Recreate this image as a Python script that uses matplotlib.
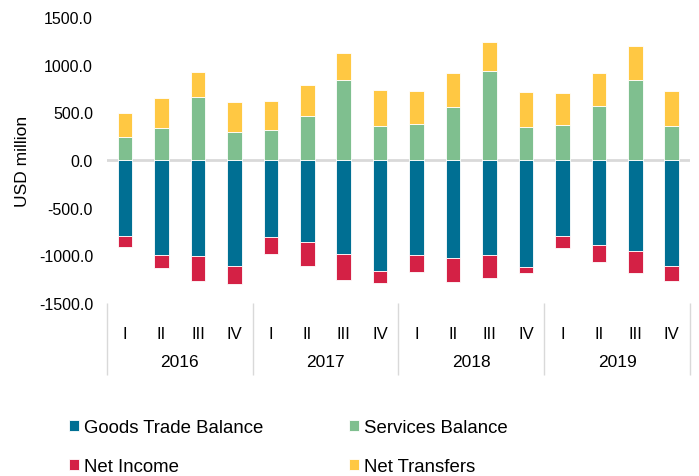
import numpy as np
import matplotlib.pyplot as plt
from matplotlib.transforms import blended_transform_factory

plt.rcParams['font.family'] = ['Liberation Sans', 'DejaVu Sans']

years = ['2016', '2017', '2018', '2019']
quarters = ['I', 'II', 'III', 'IV']

# USD million
goods = [-797, -993, -1007, -1115, -805, -863, -989, -1168,
         -993, -1028, -1000, -1119, -800, -888, -951, -1115]
services = [241, 339, 664, 297, 318, 465, 842, 360,
            381, 559, 934, 349, 364, 570, 842, 360]
income = [-112, -140, -262, -182, -182, -252, -273, -122,
          -178, -255, -241, -66, -129, -178, -238, -157]
transfers = [252, 308, 259, 311, 301, 322, 280, 377,
             343, 354, 307, 368, 336, 343, 351, 364]

c_goods = '#006f93'
c_serv = '#7fbf8f'
c_inc = '#d42145'
c_trans = '#ffc843'

x = np.arange(len(goods))
w = 0.4
fig = plt.figure(figsize=(6.99, 4.77), dpi=100)
ax = fig.add_axes([0.153, 0.363, 0.834, 0.599])

kw = dict(width=w, edgecolor='#ffffff', linewidth=0.6)
b1 = ax.bar(x, goods, color=c_goods, **kw)
b2 = ax.bar(x, services, color=c_serv, **kw)
b3 = ax.bar(x, income, bottom=goods, color=c_inc, **kw)
b4 = ax.bar(x, transfers, bottom=services, color=c_trans, **kw)

ax.set_ylim(-1500, 1500)
ax.set_xlim(-0.5, len(goods) - 0.5)
ax.set_yticks(np.arange(-1500, 1501, 500))
ax.set_yticklabels([f'{v:.1f}' for v in np.arange(-1500, 1501, 500)])
ax.set_ylabel('USD million', fontsize=12.5, labelpad=6)
ax.axhline(0, color='#d9d9d9', linewidth=2, zorder=0)
for s in ax.spines.values():
    s.set_visible(False)

ax.tick_params(axis='y', length=0, labelsize=11.5, pad=10)
ax.set_xticks(x)
ax.set_xticklabels(quarters * len(years))
ax.tick_params(axis='x', which='major', length=0, labelsize=12, pad=17)
ax.set_xticks(np.arange(-0.5, len(goods), 4), minor=True)
ax.tick_params(axis='x', which='minor', length=52, width=1, color='#d9d9d9')

trans = blended_transform_factory(ax.transData, ax.transAxes)
for i, yr in enumerate(years):
    ax.text(i * 4 + 1.5, -0.205, yr, transform=trans, ha='center', va='center',
            fontsize=12.5)

fig.legend([b1, b3, b2, b4],
           ['Goods Trade Balance', 'Net Income', 'Services Balance', 'Net Transfers'],
           ncol=2, loc='upper left', bbox_to_anchor=(0.075, 0.155), frameon=False,
           fontsize=13.4, handlelength=0.55, handleheight=0.55, handletextpad=0.25,
           columnspacing=4.6, labelspacing=1.18)

fig.savefig('out.png', dpi=100)
